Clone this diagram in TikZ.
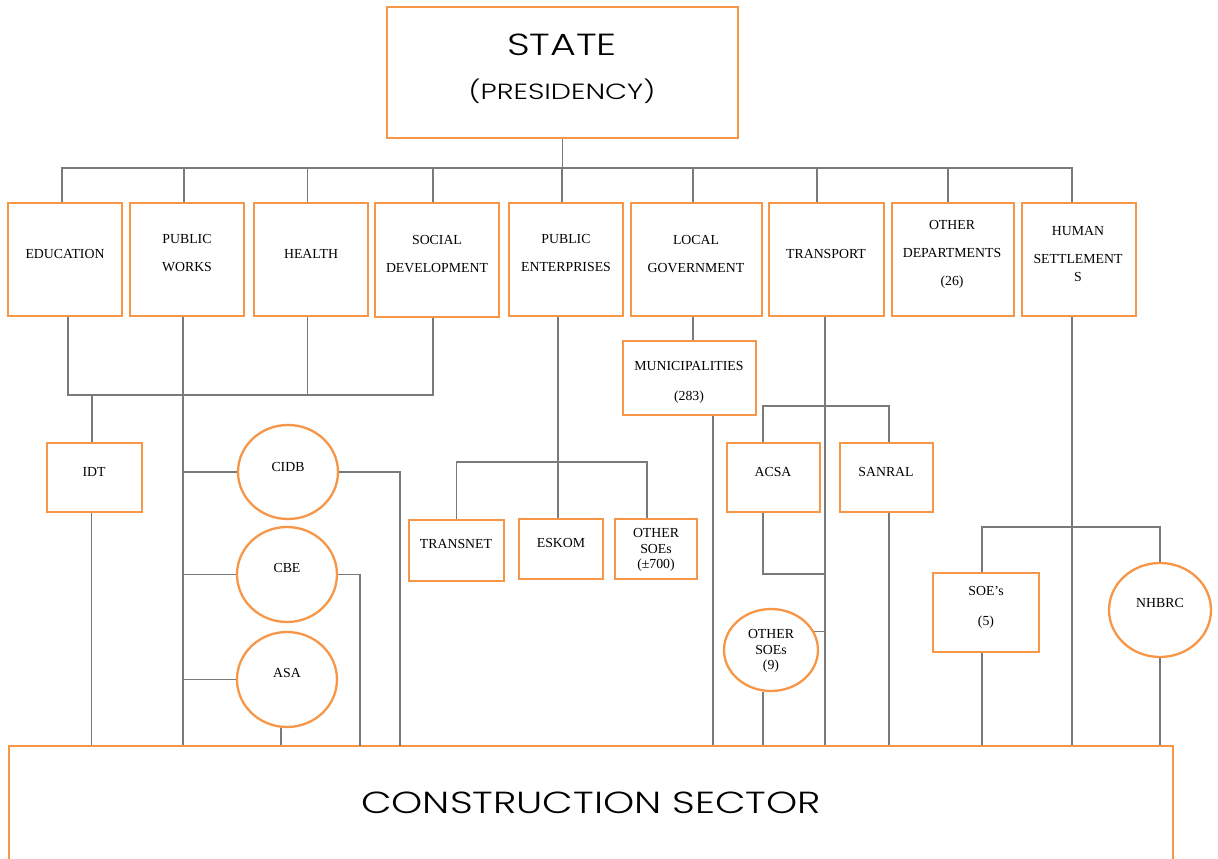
\documentclass[tikz,border=0pt]{standalone}
\usepackage{fontspec}
\setmainfont{Liberation Serif}
\IfFontExistsTF{Poppins Light}
  {\newfontfamily\geofont[FakeStretch=1.3]{Poppins Light}}
  {\newfontfamily\geofont[FakeStretch=1.3]{Poppins}}
\usetikzlibrary{shapes.geometric}

\definecolor{boxorange}{HTML}{F79646}
\definecolor{linkgray}{HTML}{7A7A7A}

\begin{document}
\begin{tikzpicture}[x=1pt, y=-1pt,
  box/.style={draw=boxorange, line width=2.3, fill=white, inner sep=0, rectangle},
  orb/.style={draw=boxorange, line width=2.3, fill=white, inner sep=0, ellipse},
  lbl/.style={font=\fontsize{13.8}{28}\selectfont, align=center, inner sep=0},
  tight/.style={lbl, font=\fontsize{13.8}{15.5}\selectfont},
  link/.style={draw=linkgray, line width=1.1},
  bigtext/.style={inner sep=0, font=\geofont\fontsize{30.5}{34}\selectfont},
  midtext/.style={inner sep=0, font=\geofont\fontsize{22}{26}\selectfont}]

\useasboundingbox (0,0) rectangle (1218,859);

% ---------- boxes and circles ----------
\node[box, minimum width=351, minimum height=131] (state) at (562.5,72.5) {};
\node[box, minimum width=1164, minimum height=140] (constr) at (591,816) {};

\node[box, minimum width=114, minimum height=113] (edu)       at (65,259.5)   {};
\node[box, minimum width=114, minimum height=113] (pw)        at (187,259.5)  {};
\node[box, minimum width=114, minimum height=113] (health)    at (311,259.5)  {};
\node[box, minimum width=124, minimum height=114] (social)    at (437,260)    {};
\node[box, minimum width=114, minimum height=113] (pubent)    at (566,259.5)  {};
\node[box, minimum width=131, minimum height=113] (localgov)  at (696.5,259.5){};
\node[box, minimum width=115, minimum height=113] (transport) at (826.5,259.5){};
\node[box, minimum width=122, minimum height=113] (otherdep)  at (953,259.5)  {};
\node[box, minimum width=114, minimum height=113] (human)     at (1079,259.5) {};

\node[box, minimum width=95,  minimum height=69] (idt)      at (94.5,477.5) {};
\node[box, minimum width=95,  minimum height=61] (transnet) at (456.5,550.5){};
\node[box, minimum width=84,  minimum height=60] (eskom)    at (561,549)    {};
\node[box, minimum width=82,  minimum height=60] (soe700)   at (656,549)    {};
\node[box, minimum width=133, minimum height=74] (muni)     at (689.5,378)  {};
\node[box, minimum width=93,  minimum height=69] (acsa)     at (773.5,477.5){};
\node[box, minimum width=93,  minimum height=69] (sanral)   at (886.5,477.5){};
\node[box, minimum width=106, minimum height=79] (soe5)     at (986,612.5)  {};

\node[orb, minimum width=100, minimum height=94] (cidb)   at (288,472)   {};
\node[orb, minimum width=100, minimum height=95] (cbe)    at (287,574.5) {};
\node[orb, minimum width=100, minimum height=95] (asa)    at (287,679.5) {};
\node[orb, minimum width=94,  minimum height=82] (soe9)   at (771,650)   {};
\node[orb, minimum width=102, minimum height=94] (nhbrc)  at (1160,610)  {};

% ---------- texts ----------
\node[bigtext] (state-t1) at (562,45) {STATE};
\node[midtext] (state-t2) at (562,91) {(PRESIDENCY)};
\node[bigtext] (constr-t) at (591,803) {CONSTRUCTION SECTOR};

\node[lbl] (edu-t)       at (65,254)    {EDUCATION};
\node[lbl] (pw-t)        at (187,253.5) {PUBLIC\\WORKS};
\node[lbl] (health-t)    at (311,254)   {HEALTH};
\node[lbl] (social-t)    at (437,254)   {SOCIAL\\DEVELOPMENT};
\node[lbl] (pubent-t)    at (566,253)   {PUBLIC\\ENTERPRISES};
\node[lbl] (localgov-t)  at (696,254)   {LOCAL\\GOVERNMENT};
\node[lbl] (transport-t) at (826,254)   {TRANSPORT};
\node[lbl] (otherdep-t)  at (952,254.5) {OTHER\\DEPARTMENTS\\(26)};
\node[lbl] (human-t)     at (1078,254)  {HUMAN\\SETTLEMENT\\[-10pt]S};
\node[lbl, font=\fontsize{13.8}{30}\selectfont] (muni-t) at (689,382) {MUNICIPALITIES\\(283)};
\node[lbl] (idt-t)       at (94,472)    {IDT};
\node[lbl] (cidb-t)      at (288,467)   {CIDB};
\node[lbl] (cbe-t)       at (287,568)   {CBE};
\node[lbl] (asa-t)       at (287,673)   {ASA};
\node[lbl] (transnet-t)  at (456,544)   {TRANSNET};
\node[lbl] (eskom-t)     at (561,543)   {ESKOM};
\node[tight] (soe700-t)  at (656,550)   {OTHER\\SOEs\\(±700)};
\node[lbl] (acsa-t)      at (773,472)   {ACSA};
\node[lbl] (sanral-t)    at (886,472)   {SANRAL};
\node[tight] (soe9-t)    at (771,651)   {OTHER\\SOEs\\(9)};
\node[lbl, font=\fontsize{13.8}{30}\selectfont] (soe5-t) at (986,607) {SOE’s\\(5)};
\node[lbl] (nhbrc-t)     at (1160,603)  {NHBRC};

% ---------- junction points ----------
\coordinate (bus)    at (562,168);
\coordinate (edubus) at (92,395);
\coordinate (pebus)  at (558,462);
\coordinate (trbus)  at (825,406);
\coordinate (trjoin) at (825,574);
\coordinate (hsbus)  at (1072,527);
\coordinate (cidbdrop) at (400,746);
\coordinate (cbedrop)  at (360,746);

% ---------- state to departments ----------
\draw[link] (state.south) -- (state.south |- bus);
\foreach \n/\dx in {edu/-3, pw/-3, health/-3.5, social/-4, pubent/-4,
                    localgov/-3.5, transport/-9.5, otherdep/-5, human/-7}
  \draw[link] ([xshift=\dx]\n.north) |- (bus);

% ---------- education, health, social development to IDT ----------
\draw[link] ([xshift=3]edu.south) |- (edubus);
\draw[link] ([xshift=-3.5]health.south) |- (edubus);
\draw[link] ([xshift=-4]social.south) |- (edubus);
\draw[link] (edubus) -- (edubus |- idt.north);
\draw[link] ([xshift=-3]idt.south) -- ([xshift=-3]idt.south |- constr.north);

% ---------- public works trunk ----------
\coordinate (pwt) at ([xshift=-4]pw.south);
\draw[link] (pwt) -- (pwt |- constr.north);
\draw[link] (cidb.west) -- (cidb.west -| pwt);
\draw[link] (cbe.west) -- (cbe.west -| pwt);
\draw[link] (asa.west) -- (asa.west -| pwt);
\draw[link] (cidb.east) -| (cidbdrop);
\draw[link] (cbe.east) -| (cbedrop);
\draw[link] ([xshift=-6]asa.south) -- ([xshift=-6]asa.south |- constr.north);

% ---------- public enterprises ----------
\draw[link] ([xshift=-8]pubent.south) -- ([xshift=-8]pubent.south |- eskom.north);
\draw[link] (transnet.north) |- (pebus);
\draw[link] ([xshift=-9]soe700.north) |- (pebus);

% ---------- local government ----------
\draw[link] ([xshift=-3.5]localgov.south) -- ([xshift=-3.5]localgov.south |- muni.north);
\draw[link] ([xshift=23.5]muni.south) -- ([xshift=23.5]muni.south |- constr.north);

% ---------- transport ----------
\draw[link] ([xshift=-1.5]transport.south) -- ([xshift=-1.5]transport.south |- constr.north);
\draw[link] ([xshift=-10.5]acsa.north) |- (trbus);
\draw[link] ([xshift=2.5]sanral.north) |- (trbus);
\draw[link] ([xshift=-10.5]acsa.south) |- (trjoin);
\draw[link] ([xshift=2.5]sanral.south) -- ([xshift=2.5]sanral.south |- constr.north);
\draw[link] (soe9.23) -- (soe9.23 -| trjoin);
\draw[link] ([xshift=-8]soe9.south) -- ([xshift=-8]soe9.south |- constr.north);

% ---------- human settlements ----------
\draw[link] ([xshift=-7]human.south) -- ([xshift=-7]human.south |- constr.north);
\draw[link] ([xshift=-4]soe5.north) |- (hsbus);
\draw[link] (nhbrc.north) |- (hsbus);
\draw[link] ([xshift=-4]soe5.south) -- ([xshift=-4]soe5.south |- constr.north);
\draw[link] (nhbrc.south) -- (nhbrc.south |- constr.north);

\end{tikzpicture}
\end{document}
